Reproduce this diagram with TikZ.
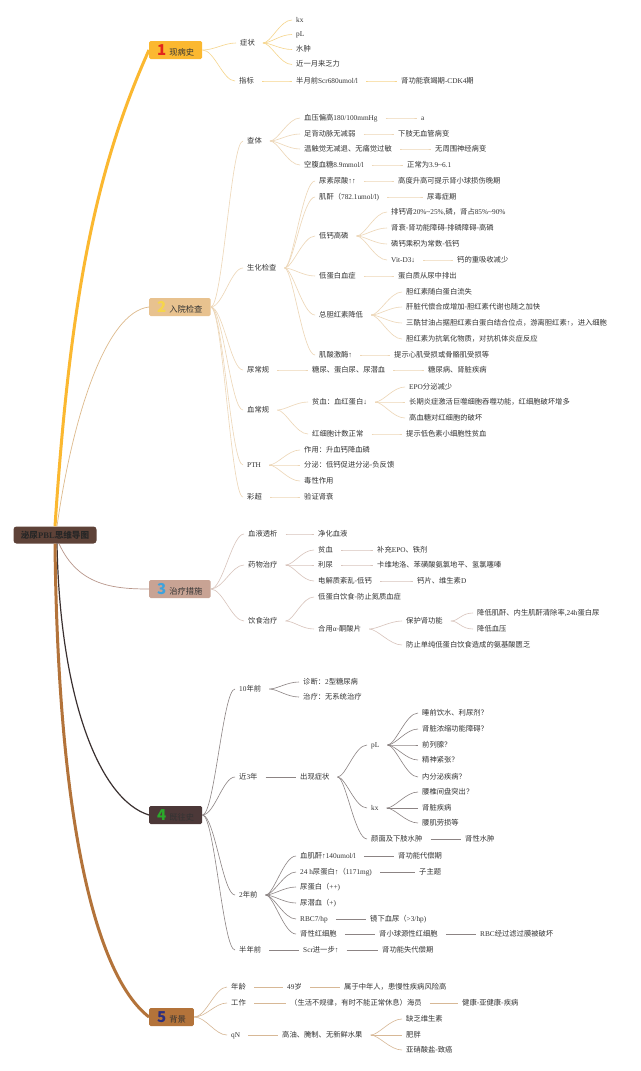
\documentclass[tikz,border=0pt]{standalone}
\usepackage{fontspec}
\usepackage{xcolor}
\setmainfont{Noto Sans CJK SC}
\newfontfamily\latf{Liberation Serif}

\definecolor{rootc}{HTML}{5E4238}
\definecolor{txt}{HTML}{333333}
\definecolor{c1}{HTML}{FBB830}
\definecolor{c1l}{HTML}{F6D58C}
\definecolor{c2}{HTML}{E8C28F}
\definecolor{c2d}{HTML}{DDBA8C}
\definecolor{c2l}{HTML}{EDD6B6}
\definecolor{c3}{HTML}{C8A394}
\definecolor{c3d}{HTML}{B8968A}
\definecolor{c3l}{HTML}{D8C4BC}
\definecolor{c4}{HTML}{4C3838}
\definecolor{c4d}{HTML}{3A3030}
\definecolor{c4l}{HTML}{8C8484}
\definecolor{c5}{HTML}{B3733A}
\definecolor{c5l}{HTML}{D7B896}
\definecolor{n1}{HTML}{E3261C}
\definecolor{n2}{HTML}{F6D64A}
\definecolor{n3}{HTML}{3FA2DC}
\definecolor{n4}{HTML}{2BAA2B}
\definecolor{n5}{HTML}{2C2E7E}

\begin{document}
\begin{tikzpicture}[
  x=1pt, y=-1pt,
  every node/.style={font=\fontsize{7.3}{8}\selectfont, text=txt},
  leaf/.style={anchor=west, inner xsep=4pt, inner ysep=1pt,
               text height=6.2pt, text depth=1.3pt},
  topic/.style={anchor=west, rounded corners=1.5pt, minimum height=18pt,
                inner xsep=8pt, inner ysep=0pt, text=black!80,
                font=\fontsize{8.3}{9}\selectfont},
  twig/.style={to path={.. controls ([xshift=12pt]\tikztostart)
                and ([xshift=-12pt]\tikztotarget) .. (\tikztotarget)}},
  sub/.style={line width=0.6pt, shorten <=4pt}
]
\path[use as bounding box, fill=white] (0,0) rectangle (640,1071);

% ---- Root and main topics ----
\node[fill=rootc, rounded corners=3pt, minimum width=83pt, minimum height=17pt,
      inner sep=0pt, font=\fontsize{8.6}{9}\selectfont\bfseries, text=black!85]
  (root) at (55,535) {泌尿{\latf PBL}思维导图};

\node[topic, fill=c1] (b1) at (149,50)
  {\textcolor{n1}{\fontsize{15}{15}\selectfont\bfseries 1}\hspace{3pt}现病史};
\node[topic, fill=c2] (b2) at (149,307)
  {\textcolor{n2}{\fontsize{15}{15}\selectfont\bfseries 2}\hspace{3pt}入院检查};
\node[topic, fill=c3] (b3) at (149,589)
  {\textcolor{n3}{\fontsize{15}{15}\selectfont\bfseries 3}\hspace{3pt}治疗措施};
\node[topic, fill=c4] (b4) at (149,815)
  {\textcolor{n4}{\fontsize{15}{15}\selectfont\bfseries 4}\hspace{3pt}既往史};
\node[topic, fill=c5] (b5) at (149,1017)
  {\textcolor{n5}{\fontsize{15}{15}\selectfont\bfseries 5}\hspace{3pt}背景};

\draw[c1, line width=3pt] (root.north) .. controls (70,300) and (95,170) .. (b1.west);
\draw[c2d, line width=0.7pt] ([xshift=2pt]root.north) .. controls (72,420) and (105,312) .. (b2.west);
\draw[c3d, line width=0.7pt] ([xshift=4pt]root.south) .. controls (78,585) and (112,589) .. (b3.west);
\draw[c4d, line width=1.2pt] ([xshift=2pt]root.south) .. controls (60,700) and (100,800) .. (b4.west);
\draw[c5, line width=3pt] (root.south) .. controls (58,820) and (95,975) .. (b5.west);

% ---- 1 现病史 ----
\node[leaf] (zz)  at (236,43)   {症状};
\node[leaf] (zz1) at (292,20)   {\latf kx};
\node[leaf] (zz2) at (292,34.5) {\latf pL};
\node[leaf] (zz3) at (292,49.5) {水肿};
\node[leaf] (zz4) at (292,64.5) {近一月来乏力};
\node[leaf] (zb)  at (235,81)   {指标};
\node[leaf] (zb1) at (292,81)   {半月前{\latf Scr680umol/l}};
\node[leaf] (zb2) at (397,81)   {肾功能衰竭期{\latf -CDK4}期};

\foreach \b in {zz, zb}
  \draw[c1l, line width=0.6pt] (b1.east) to[twig] (\b.west);
\foreach \a/\b in {zz/zz1, zz/zz2, zz/zz3, zz/zz4, zb/zb1, zb1/zb2}
  \draw[sub, c1l] (\a.east) to[twig] (\b.west);

% ---- 2 入院检查 ----
\node[leaf] (ct)   at (243,141) {查体};
\node[leaf] (ct1)  at (300,118) {血压偏高{\latf 180/100mmHg}};
\node[leaf] (ct1a) at (417,118) {\latf a};
\node[leaf] (ct2)  at (300,134) {足背动脉无减弱};
\node[leaf] (ct2a) at (394,134) {下肢无血管病变};
\node[leaf] (ct3)  at (300,149) {温触觉无减退、无痛觉过敏};
\node[leaf] (ct3a) at (431,149) {无周围神经病变};
\node[leaf] (ct4)  at (300,165) {空腹血糖{\latf 8.9mmol/l}};
\node[leaf] (ct4a) at (403,165) {正常为{\latf 3.9\textasciitilde6.1}};

\node[leaf] (sh)   at (243,268) {生化检查};
\node[leaf] (sh1)  at (315,181) {尿素尿酸{\latf ↑↑}};
\node[leaf] (sh1a) at (394,181) {高度升高可提示肾小球损伤晚期};
\node[leaf] (sh2)  at (315,197) {肌酐（{\latf 782.1umol/l)}};
\node[leaf] (sh2a) at (423,197) {尿毒症期};
\node[leaf] (sh3)  at (315,236) {低钙高磷};
\node[leaf] (sh3a) at (387,212) {排钙肾{\latf 20\%\textasciitilde25\%,}磷，肾占{\latf 85\%\textasciitilde90\%}};
\node[leaf] (sh3b) at (387,228) {肾衰-肾功能障碍-排磷障碍-高磷};
\node[leaf] (sh3c) at (387,244) {磷钙乘积为常数-低钙};
\node[leaf] (sh3d) at (387,260) {\latf Vit-D3↓};
\node[leaf] (sh3e) at (453,260) {钙的重吸收减少};
\node[leaf] (sh4)  at (315,276) {低蛋白血症};
\node[leaf] (sh4a) at (394,276) {蛋白质从尿中排出};
\node[leaf] (sh5)  at (315,315) {总胆红素降低};
\node[leaf] (sh5a) at (402,292) {胆红素随白蛋白流失};
\node[leaf] (sh5b) at (402,307) {肝脏代偿合成增加-胆红素代谢也随之加快};
\node[leaf] (sh5c) at (402,323) {三酰甘油占据胆红素白蛋白结合位点，游离胆红素{\latf ↑}，进入细胞};
\node[leaf] (sh5d) at (402,339) {胆红素为抗氧化物质，对抗机体炎症反应};
\node[leaf] (sh6)  at (315,355) {肌酸激酶{\latf ↑}};
\node[leaf] (sh6a) at (390,355) {提示心肌受损或骨骼肌受损等};

\node[leaf] (nc)   at (243,370) {尿常规};
\node[leaf] (nc1)  at (308,370) {糖尿、蛋白尿、尿潜血};
\node[leaf] (nc2)  at (424,370) {糖尿病、肾脏疾病};

\node[leaf] (xc)   at (243,410) {血常规};
\node[leaf] (xc1)  at (308,402) {贫血：血红蛋白{\latf ↓}};
\node[leaf] (xc1a) at (405,387) {{\latf EPO}分泌减少};
\node[leaf] (xc1b) at (405,402) {长期炎症激活巨噬细胞吞噬功能，红细胞破坏增多};
\node[leaf] (xc1c) at (405,418) {高血糖对红细胞的破坏};
\node[leaf] (xc2)  at (308,434) {红细胞计数正常};
\node[leaf] (xc2a) at (402,434) {提示低色素小细胞性贫血};

\node[leaf] (pth)  at (243,465) {\latf PTH};
\node[leaf] (pth1) at (300,450) {作用：升血钙降血磷};
\node[leaf] (pth2) at (300,465) {分泌：低钙促进分泌-负反馈};
\node[leaf] (pth3) at (300,481) {毒性作用};

\node[leaf] (cc)   at (243,497) {彩超};
\node[leaf] (cc1)  at (300,497) {验证肾衰};

\foreach \b in {ct, sh, nc, xc, pth, cc}
  \draw[c2l, line width=0.6pt] (b2.east) to[twig] (\b.west);
\foreach \a/\b in {ct/ct1, ct/ct2, ct/ct3, ct/ct4, ct1/ct1a, ct2/ct2a, ct3/ct3a, ct4/ct4a,
                   sh/sh1, sh/sh2, sh/sh3, sh/sh4, sh/sh5, sh/sh6, sh1/sh1a, sh2/sh2a,
                   sh3/sh3a, sh3/sh3b, sh3/sh3c, sh3/sh3d, sh3d/sh3e, sh4/sh4a,
                   sh5/sh5a, sh5/sh5b, sh5/sh5c, sh5/sh5d, sh6/sh6a,
                   nc/nc1, nc1/nc2, xc/xc1, xc/xc2, xc1/xc1a, xc1/xc1b, xc1/xc1c, xc2/xc2a,
                   pth/pth1, pth/pth2, pth/pth3, cc/cc1}
  \draw[sub, c2l] (\a.east) to[twig] (\b.west);

% ---- 3 治疗措施 ----
\node[leaf] (tx)    at (244,534) {血液透析};
\node[leaf] (tx1)   at (314,534) {净化血液};
\node[leaf] (yw)    at (244,565) {药物治疗};
\node[leaf] (yw1)   at (314,550) {贫血};
\node[leaf] (yw1a)  at (373,550) {补充{\latf EPO}、铁剂};
\node[leaf] (yw2)   at (314,565) {利尿};
\node[leaf] (yw2a)  at (373,565) {卡维地洛、苯磺酸氨氯地平、氢氯噻嗪};
\node[leaf] (yw3)   at (314,581) {电解质紊乱-低钙};
\node[leaf] (yw3a)  at (413,581) {钙片、维生素{\latf D}};
\node[leaf] (ys)    at (244,621) {饮食治疗};
\node[leaf] (ys1)   at (314,597) {低蛋白饮食-防止氮质血症};
\node[leaf] (ys2)   at (314,629) {合用{\latf α}-酮酸片};
\node[leaf] (ys2a)  at (402,621) {保护肾功能};
\node[leaf] (ys2a1) at (473,613) {降低肌酐、内生肌酐清除率{\latf ,24h}蛋白尿};
\node[leaf] (ys2a2) at (473,629) {降低血压};
\node[leaf] (ys2b)  at (402,645) {防止单纯低蛋白饮食造成的氨基酸匮乏};

\foreach \b in {tx, yw, ys}
  \draw[c3l, line width=0.6pt] (b3.east) to[twig] (\b.west);
\foreach \a/\b in {tx/tx1, yw/yw1, yw/yw2, yw/yw3, yw1/yw1a, yw2/yw2a, yw3/yw3a,
                   ys/ys1, ys/ys2, ys2/ys2a, ys2/ys2b, ys2a/ys2a1, ys2a/ys2a2}
  \draw[sub, c3l] (\a.east) to[twig] (\b.west);

% ---- 4 既往史 ----
\node[leaf] (sn)   at (235,689) {{\latf 10}年前};
\node[leaf] (sn1)  at (299,682) {诊断：{\latf 2}型糖尿病};
\node[leaf] (sn2)  at (299,697) {治疗：无系统治疗};
\node[leaf] (j3)   at (235,777) {近{\latf 3}年};
\node[leaf] (j3a)  at (296,777) {出现症状};
\node[leaf] (pl)   at (367,745) {\latf pL};
\node[leaf] (pl1)  at (418,713) {睡前饮水、利尿剂？};
\node[leaf] (pl2)  at (418,729) {肾脏浓缩功能障碍？};
\node[leaf] (pl3)  at (418,745) {前列腺？};
\node[leaf] (pl4)  at (418,760) {精神紧张？};
\node[leaf] (pl5)  at (418,777) {内分泌疾病？};
\node[leaf] (kx)   at (367,808) {\latf kx};
\node[leaf] (kx1)  at (418,792) {腰椎间盘突出？};
\node[leaf] (kx2)  at (418,808) {肾脏疾病};
\node[leaf] (kx3)  at (418,823) {腰肌劳损等};
\node[leaf] (sz)   at (367,839) {颜面及下肢水肿};
\node[leaf] (sz1)  at (461,839) {肾性水肿};
\node[leaf] (ln)   at (235,895) {{\latf 2}年前};
\node[leaf] (ln1)  at (296,856) {血肌酐{\latf ↑140umol/l}};
\node[leaf] (ln1a) at (394,856) {肾功能代偿期};
\node[leaf] (ln2)  at (296,872) {{\latf 24 h}尿蛋白{\latf ↑}（{\latf 1171mg)}};
\node[leaf] (ln2a) at (415,872) {子主题};
\node[leaf] (ln3)  at (296,887) {尿蛋白（{\latf ++)}};
\node[leaf] (ln4)  at (296,903) {尿潜血（{\latf +)}};
\node[leaf] (ln5)  at (296,919) {\latf RBC7/hp};
\node[leaf] (ln5a) at (366,919) {镜下血尿（{\latf >3/hp)}};
\node[leaf] (ln6)  at (296,934) {肾性红细胞};
\node[leaf] (ln6a) at (375,934) {肾小球源性红细胞};
\node[leaf] (ln6b) at (476,934) {{\latf RBC}经过滤过膜被破坏};
\node[leaf] (bn)   at (235,950) {半年前};
\node[leaf] (bn1)  at (299,950) {{\latf Scr}进一步{\latf ↑}};
\node[leaf] (bn2)  at (378,950) {肾功能失代偿期};

\foreach \b in {sn, j3, ln, bn}
  \draw[c4l, line width=0.6pt] (b4.east) to[twig] (\b.west);
\foreach \a/\b in {sn/sn1, sn/sn2, j3/j3a, j3a/pl, j3a/kx, j3a/sz,
                   pl/pl1, pl/pl2, pl/pl3, pl/pl4, pl/pl5, kx/kx1, kx/kx2, kx/kx3, sz/sz1,
                   ln/ln1, ln/ln2, ln/ln3, ln/ln4, ln/ln5, ln/ln6, ln1/ln1a, ln2/ln2a,
                   ln5/ln5a, ln6/ln6a, ln6a/ln6b, bn/bn1, bn1/bn2}
  \draw[sub, c4l] (\a.east) to[twig] (\b.west);

% ---- 5 背景 ----
\node[leaf] (nl)   at (227,987)  {年龄};
\node[leaf] (nl1)  at (283,987)  {{\latf 49}岁};
\node[leaf] (nl2)  at (340,987)  {属于中年人，患慢性疾病风险高};
\node[leaf] (gz)   at (227,1003) {工作};
\node[leaf] (gz1)  at (286,1003) {（生活不规律，有时不能正常休息）海员};
\node[leaf] (gz2)  at (458,1003) {健康-亚健康-疾病};
\node[leaf] (qn)   at (227,1035) {\latf qN};
\node[leaf] (qn1)  at (278,1035) {高油、腌制、无新鲜水果};
\node[leaf] (qn1a) at (402,1019) {缺乏维生素};
\node[leaf] (qn1b) at (402,1035) {肥胖};
\node[leaf] (qn1c) at (402,1050) {亚硝酸盐-致癌};

\foreach \b in {nl, gz, qn}
  \draw[c5l, line width=0.6pt] (b5.east) to[twig] (\b.west);
\foreach \a/\b in {nl/nl1, nl1/nl2, gz/gz1, gz1/gz2, qn/qn1, qn1/qn1a, qn1/qn1b, qn1/qn1c}
  \draw[sub, c5l] (\a.east) to[twig] (\b.west);

\end{tikzpicture}
\end{document}
